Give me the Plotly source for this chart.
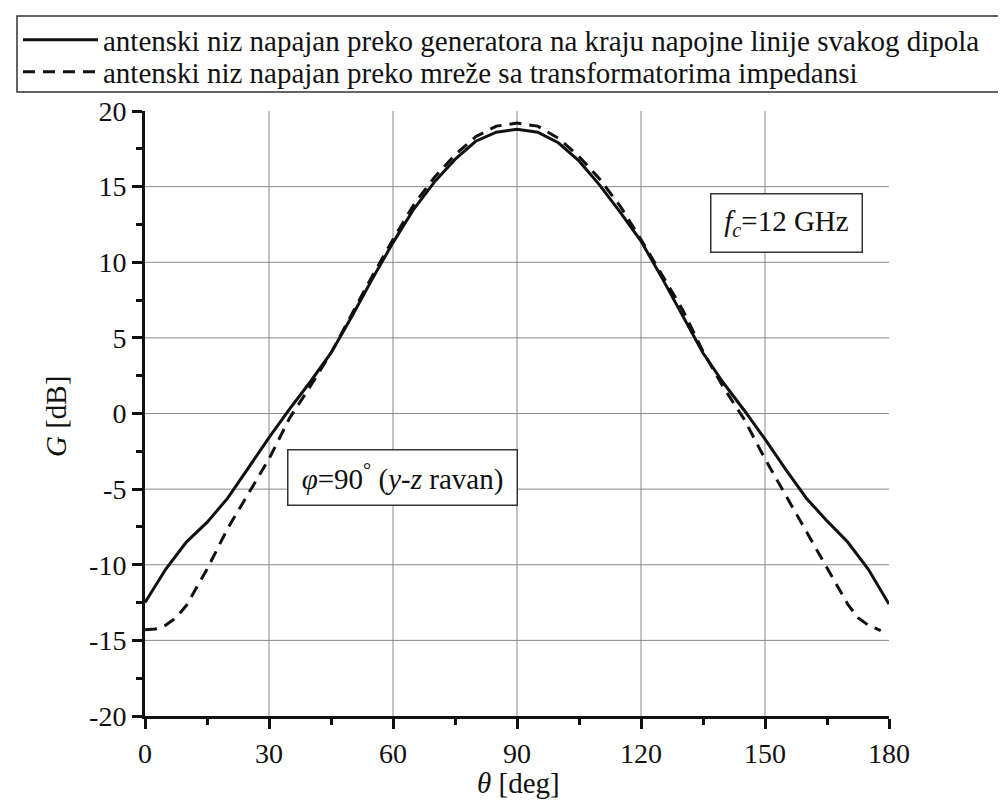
import plotly.graph_objects as go

# theta [deg]
theta_solid = [0, 5, 10, 15, 20, 25, 30, 35, 40, 45, 50, 55, 60, 65, 70, 75, 80, 85, 90,
               95, 100, 105, 110, 115, 120, 125, 130, 135, 140, 145, 150, 155, 160, 165, 170, 175, 180]
gain_solid = [-12.5, -10.3, -8.5, -7.2, -5.6, -3.6, -1.6, 0.3, 2.1, 4.0, 6.4, 8.9, 11.3, 13.5, 15.3, 16.8, 18.0, 18.6, 18.8,
              18.6, 17.9, 16.7, 15.1, 13.3, 11.4, 9.0, 6.5, 4.0, 2.0, 0.2, -1.7, -3.7, -5.6, -7.1, -8.5, -10.3, -12.6]

theta_dash = [0, 2.5, 5, 7.5, 10, 12.5, 15, 20, 25, 30, 35, 40, 45, 50, 55, 60, 65, 70, 75, 80, 85, 90,
              95, 100, 105, 110, 115, 120, 125, 130, 135, 140, 145, 150, 155, 160, 165, 167.5, 170, 172.5, 175, 178]
gain_dash = [-14.3, -14.25, -14.0, -13.5, -12.7, -11.5, -10.3, -7.6, -5.3, -3.0, -0.3, 1.8, 4.0, 6.6, 9.1, 11.5, 13.8, 15.6, 17.1, 18.3, 19.0, 19.2,
             19.0, 18.2, 17.0, 15.5, 13.7, 11.5, 9.2, 6.9, 4.1, 1.7, -0.4, -3.0, -5.4, -7.8, -10.2, -11.4, -12.6, -13.5, -14.0, -14.35]

series_names = ["antenski niz napajan preko generatora na kraju napojne linije svakog dipola",
                "antenski niz napajan preko mreže sa transformatorima impedansi"]

x_tickvals = [0, 30, 60, 90, 120, 150, 180]
x_ticktext = ["0", "30", "60", "90", "120", "150", "180"]
y_tickvals = [-20, -15, -10, -5, 0, 5, 10, 15, 20]
y_ticktext = ["-20", "-15", "-10", "-5", "0", "5", "10", "15", "20"]
grid_x = [30, 60, 90, 120, 150]
grid_y = [-15, -10, -5, 0, 5, 10, 15]

FONT = "Liberation Serif, Times New Roman, serif"
INK = "#111111"

fig = go.Figure()
fig.add_trace(go.Scatter(x=theta_solid, y=gain_solid, mode="lines", name=series_names[0],
                         line=dict(color=INK, width=3), legend="legend"))
fig.add_trace(go.Scatter(x=theta_dash, y=gain_dash, mode="lines", name=series_names[1],
                         line=dict(color=INK, width=3, dash="12px,8px"), legend="legend2"))

for gx in grid_x:
    fig.add_shape(type="line", x0=gx, x1=gx, y0=-20, y1=20, xref="x", yref="y",
                  line=dict(color="#8a8a8a", width=1), layer="below")
for gy in grid_y:
    fig.add_shape(type="line", x0=0, x1=180, y0=gy, y1=gy, xref="x", yref="y",
                  line=dict(color="#8a8a8a", width=1), layer="below")

# plot area in pixels: x 137..881, y 103..708
PL, PR, PT, PB = 137, 881, 103, 708
def px(xp):
    return (xp - PL) / (PR - PL)
def py(yp):
    return (PB - yp) / (PB - PT)

# legend frame
fig.add_shape(type="rect", xref="paper", yref="paper",
              x0=px(9), x1=px(1003), y0=py(84), y1=py(8),
              line=dict(color="#333333", width=1.5), fillcolor="rgba(0,0,0,0)", layer="above")

fig.add_annotation(x=155.3, y=12.57, xref="x", yref="y",
                   text="<i>f</i><sub><i>c</i></sub>=12 GHz", showarrow=False,
                   font=dict(family=FONT, size=29, color=INK),
                   bgcolor="white", bordercolor="#333333", borderwidth=1.5, borderpad=0,
                   width=150, height=57)
fig.add_annotation(x=62.2, y=-4.23, xref="x", yref="y",
                   text="<i>φ</i>=90<sup>°</sup> (<i>y</i>-<i>z</i> ravan)", showarrow=False,
                   font=dict(family=FONT, size=29, color=INK),
                   bgcolor="white", bordercolor="#333333", borderwidth=1.5, borderpad=0,
                   width=228, height=54)

# axis titles
fig.add_annotation(x=px(30), y=py(408), xref="paper", yref="paper", text="<i>G</i> [dB]",
                   textangle=-90, showarrow=False, font=dict(family=FONT, size=29, color=INK))
fig.add_annotation(x=px(510), y=py(793), xref="paper", yref="paper", text="<i>θ</i> [deg]",
                   showarrow=False, font=dict(family=FONT, size=29, color=INK))

axis_common = dict(showline=True, linecolor=INK, linewidth=3, showgrid=False, zeroline=False,
                   ticks="outside", ticklen=10, tickwidth=3, tickcolor=INK,
                   tickfont=dict(family=FONT, size=28, color=INK), automargin=False)

fig.update_xaxes(range=[0, 180], tickmode="array", tickvals=x_tickvals, ticktext=x_ticktext,
                 minor=dict(tickmode="linear", tick0=0, dtick=15, ticks="outside", ticklen=6,
                            tickwidth=3, tickcolor=INK, showgrid=False),
                 **axis_common)
fig.update_yaxes(range=[-20, 20], tickmode="array", tickvals=y_tickvals, ticktext=y_ticktext,
                 minor=dict(tickmode="linear", tick0=0, dtick=2.5, ticks="outside", ticklen=6,
                            tickwidth=3, tickcolor=INK, showgrid=False),
                 **axis_common)

legend_common = dict(xref="container", yref="container", xanchor="left", yanchor="middle",
                     font=dict(family=FONT, size=29, color=INK),
                     bgcolor="rgba(0,0,0,0)", borderwidth=0, itemwidth=75)

fig.update_layout(
    width=1006, height=810,
    margin=dict(l=PL, r=1006 - PR, t=PT, b=810 - PB, autoexpand=False),
    paper_bgcolor="white", plot_bgcolor="white",
    font=dict(family=FONT, color=INK),
    showlegend=True,
    legend=dict(x=10 / 1006, y=1 - 32 / 810, **legend_common),
    legend2=dict(x=10 / 1006, y=1 - 64 / 810, **legend_common),
)

fig.write_html("out.html")
